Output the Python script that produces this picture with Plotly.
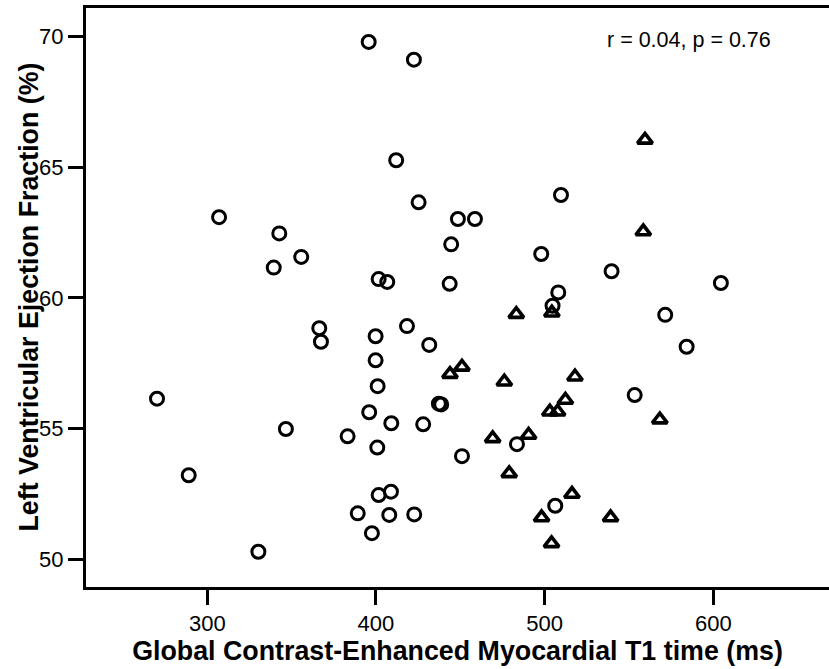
import plotly.graph_objects as go

# Group 1 (open circles)
circle_t1 = [307.0, 342.7, 355.7, 339.4, 395.7, 422.5, 412.0, 425.3, 448.6, 458.7,
             509.7, 444.6, 498.0, 401.6, 406.7, 443.7, 508.1, 539.7, 604.5, 366.4,
             367.4, 270.2, 346.6, 289.0, 330.3, 504.7, 418.4, 399.8, 431.6, 399.8,
             401.0, 437.3, 438.7, 396.0, 409.1, 428.0, 383.2, 483.6, 400.8, 451.0,
             401.6, 408.9, 506.3, 389.2, 407.9, 422.7, 397.6, 571.5, 584.2, 553.4]
circle_ef = [63.09, 62.47, 61.57, 61.16, 69.80, 69.12, 65.27, 63.66, 63.02, 63.02,
             63.94, 62.05, 61.68, 60.72, 60.61, 60.54, 60.21, 61.02, 60.57, 58.84,
             58.32, 56.14, 54.98, 53.21, 50.28, 59.70, 58.92, 58.53, 58.20, 57.61,
             56.62, 55.95, 55.92, 55.62, 55.20, 55.16, 54.70, 54.40, 54.27, 53.94,
             52.45, 52.58, 52.04, 51.75, 51.69, 51.71, 50.99, 59.35, 58.13, 56.28]

# Group 2 (open triangles)
tri_t1 = [559.5, 558.5, 483.2, 504.3, 443.9, 451.0, 476.1, 518.0, 512.3, 503.1,
          507.7, 469.2, 490.5, 479.0, 516.2, 498.2, 504.1, 539.1, 568.3]
tri_ef = [66.05, 62.54, 59.38, 59.43, 57.08, 57.36, 56.79, 56.98, 56.09, 55.64,
          55.64, 54.62, 54.75, 53.28, 52.49, 51.59, 50.60, 51.59, 55.34]

x_ticks = [300, 400, 500, 600]
y_ticks = [50, 55, 60, 65, 70]
annotation_text = "r = 0.04, p = 0.76"
x_title = "Global Contrast-Enhanced Myocardial T1 time (ms)"
y_title = "Left Ventricular Ejection Fraction (%)"

FONT = "Liberation Sans, Arial, sans-serif"

fig = go.Figure()
fig.add_trace(go.Scatter(
    x=circle_t1, y=circle_ef, mode="markers",
    marker=dict(symbol="circle-open", size=13, color="black", line=dict(width=3, color="black")),
    showlegend=False, cliponaxis=False))
fig.add_trace(go.Scatter(
    x=tri_t1, y=tri_ef, mode="markers",
    marker=dict(symbol="triangle-up-open", size=13, color="black", line=dict(width=3.6, color="black")),
    showlegend=False, cliponaxis=False))

fig.update_layout(
    width=829, height=669,
    margin=dict(l=86, r=0, t=8, b=82),
    paper_bgcolor="white", plot_bgcolor="white",
    font=dict(family=FONT, color="black"),
    xaxis=dict(
        range=[228.1, 668.6], tickvals=x_ticks, ticktext=[str(v) for v in x_ticks],
        showgrid=False, zeroline=False,
        showline=True, linecolor="black", linewidth=3, mirror=True,
        ticks="outside", ticklen=15, tickwidth=3, tickcolor="black",
        tickfont=dict(size=22, family=FONT, color="black"),
        title=dict(text="<b>" + x_title + "</b>",
                   font=dict(size=26.8, family=FONT, color="black"), standoff=6),
    ),
    yaxis=dict(
        range=[48.93, 71.1], tickvals=y_ticks, ticktext=[str(v) for v in y_ticks],
        showgrid=False, zeroline=False,
        showline=True, linecolor="black", linewidth=3, mirror=False,
        ticks="outside", ticklen=15, tickwidth=3, tickcolor="black",
        tickfont=dict(size=22, family=FONT, color="black"),
    ),
    annotations=[
        dict(text=annotation_text, xref="paper", yref="paper", x=0.8116, y=0.9447,
             xanchor="center", yanchor="middle", showarrow=False,
             font=dict(size=21.5, family=FONT, color="black")),
        dict(text="<b>" + y_title + "</b>", xref="paper", yref="paper",
             x=-0.078, y=0.5, xanchor="center", yanchor="middle", textangle=-90,
             showarrow=False, font=dict(size=26.8, family=FONT, color="black")),
    ],
)

fig.write_html("out.html")
